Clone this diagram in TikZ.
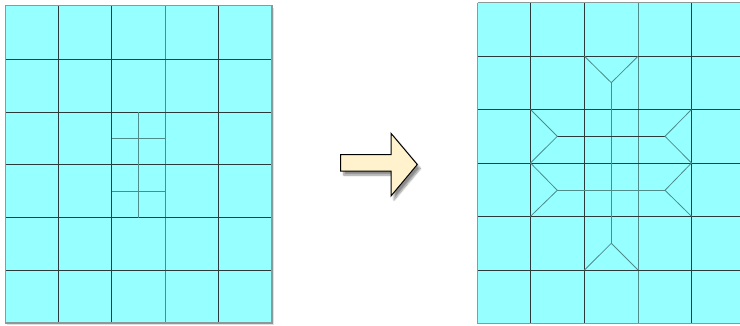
\documentclass[tikz,border=0pt]{standalone}
\usetikzlibrary{shadows.blur}
\definecolor{cellfill}{HTML}{96FFFF}
\definecolor{gridline}{HTML}{2B3B3B}
\definecolor{softline}{HTML}{4E8C8C}
\definecolor{frameline}{HTML}{8A9A9A}
\definecolor{arrowfill}{HTML}{FFF2CC}
\tikzset{
  gridl/.style={draw=gridline, line width=0.9pt},
  softl/.style={draw=softline, line width=0.9pt},
  diagl/.style={draw=softline, line width=0.8pt},
  framel/.style={draw=frameline, line width=1.2pt},
  bigarrow/.style={fill=arrowfill, draw=black, line width=1pt, line join=miter,
    blur shadow={shadow xshift=3pt, shadow yshift=-4pt, shadow blur steps=8, shadow opacity=45}}
}
\begin{document}
\begin{tikzpicture}[x=1pt,y=-1pt]
\useasboundingbox (0,0) rectangle (740,325);
\clip (0,0) rectangle (740,325);
% ---------- left grid ----------
\fill[black!12] (7,7.5) rectangle (274,325);
\fill[cellfill] (5.5,5.5) rectangle (272,323);
\foreach \x in {58.7,111.7,218.7} \draw[gridl] (\x,5.5) -- (\x,323);
\draw[softl] (165,5.5) -- (165,323);
\foreach \y in {59.3,112.3,164.7,217.7,270.7} \draw[gridl] (5.5,\y) -- (272,\y);
\draw[softl] (138.7,112.3) -- (138.7,217.7);
\draw[softl] (111.7,138.3) -- (165,138.3);
\draw[softl] (111.7,191.3) -- (165,191.3);
\draw[framel] (5.5,5.5) rectangle (272,323);
% ---------- arrow ----------
\path[bigarrow] (340.7,154.5) -- (391,154.5) -- (391,133.3) -- (417.3,164.5)
  -- (391,196) -- (391,171) -- (340.7,171) -- cycle;
% ---------- right grid ----------
\fill[cellfill] (477.5,2.7) rectangle (745,323.5);
\foreach \x in {530.5,584.5,691.5} \draw[gridl] (\x,2.7) -- (\x,323.5);
\draw[softl] (638,2.7) -- (638,323.5);
\foreach \y in {56.3,109.5,163,216.3,270} \draw[gridl] (477.5,\y) -- (745,\y);
% centre vertical and horizontals
\draw[softl] (611.3,82.7) -- (611.3,243.3);
\draw[gridl] (557.3,136.3) -- (665,136.3);
\draw[softl] (557.3,190.3) -- (665,190.3);
% V shapes top and bottom
\draw[diagl] (584.5,56.3) -- (611.3,82.7) -- (638,56.3);
\draw[diagl] (584.5,270) -- (611.3,243.3) -- (638,270);
% left chevrons
\draw[diagl] (530.5,109.5) -- (557.3,136.3) -- (530.5,163);
\draw[diagl] (530.5,163) -- (557.3,190.3) -- (530.5,216.3);
% right chevrons
\draw[diagl] (691.5,109.5) -- (665,136.3) -- (691.5,163);
\draw[diagl] (691.5,163) -- (665,190.3) -- (691.5,216.3);
\draw[framel] (477.5,2.7) -- (745,2.7);
\draw[framel] (477.5,2.7) -- (477.5,323.5) -- (745,323.5);
\end{tikzpicture}
\end{document}
